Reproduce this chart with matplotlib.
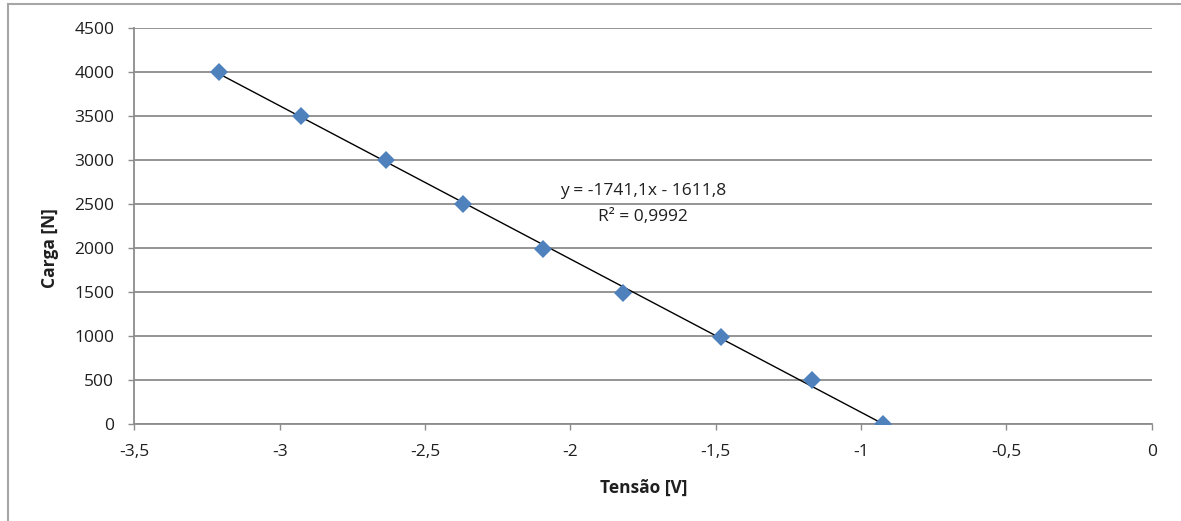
import numpy as np
import matplotlib
matplotlib.use("Agg")
import matplotlib.pyplot as plt
from matplotlib.lines import Line2D

# ---- data ----
tensao = [-3.208, -2.927, -2.635, -2.368, -2.095, -1.818, -1.483, -1.170, -0.925]
carga = [4000, 3500, 3000, 2500, 1985, 1490, 985, 495, 0]

x_ticks = [-3.5, -3.0, -2.5, -2.0, -1.5, -1.0, -0.5, 0.0]
x_tick_labels = ["-3,5", "-3", "-2,5", "-2", "-1,5", "-1", "-0,5", "0"]
y_ticks = [0, 500, 1000, 1500, 2000, 2500, 3000, 3500, 4000, 4500]
y_tick_labels = [str(v) for v in y_ticks]

eq_text = "y = -1741,1x - 1611,8"
r2_text = "R² = 0,9992"
x_label = "Tensão [V]"
y_label = "Carga [N]"

# ---- style ----
plt.rcParams['font.family'] = ['Open Sans', 'DejaVu Sans']
grid_col = "#8C8C8C"
txt_col = "#1F1F1F"
fs = 12.5

W, H = 1181, 521
fig = plt.figure(figsize=(W / 100, H / 100), dpi=100)
ax = fig.add_axes([134.3 / W, (H - 424) / H, (1151.7 - 134.3) / W, (424 - 27.7) / H])

ax.set_xlim(-3.5, 0)
ax.set_ylim(0, 4500)

ax.set_xticks(x_ticks)
ax.set_xticklabels(x_tick_labels)
ax.set_yticks(y_ticks)
ax.set_yticklabels(y_tick_labels)

ax.grid(axis='y', color=grid_col, linewidth=1.3)
ax.set_axisbelow(True)
for s in ['top', 'right']:
    ax.spines[s].set_visible(False)
for s in ['left', 'bottom']:
    ax.spines[s].set_color(grid_col)
    ax.spines[s].set_linewidth(1.3)

ax.tick_params(axis='both', direction='out', length=4.5, width=1.0,
               color=grid_col, labelsize=fs, labelcolor=txt_col)
ax.tick_params(axis='y', pad=10)
ax.tick_params(axis='x', pad=10)

# trendline
xs = np.array(tensao)
ys = np.array(carga)
slope, intercept = np.polyfit(xs, ys, 1)
xl = np.array([xs.min(), xs.max()])
ax.plot(xl, slope * xl + intercept, color='black', linewidth=1.0, zorder=3)

# points
ax.plot(tensao, carga, linestyle='none', marker='D', markersize=8.8,
        color='#4F81BD', markeredgewidth=0, zorder=4)

ax.text(0.50, 0.588, eq_text, transform=ax.transAxes, ha='center', va='center',
        fontsize=fs, color=txt_col)
ax.text(0.50, 0.522, r2_text, transform=ax.transAxes, ha='center', va='center',
        fontsize=fs, color=txt_col)

fig.text(644 / W, 1 - 488 / H, x_label, ha='center', va='center',
         fontsize=fs, fontweight='bold', color=txt_col)
fig.text(50 / W, 1 - 248 / H, y_label, ha='center', va='center', rotation=90,
         fontsize=fs, fontweight='bold', color=txt_col)

# outer frame (top and left visible)
frame_col = "#A6A6A6"
fig.add_artist(Line2D([8 / W, 1.0], [1 - 4 / H, 1 - 4 / H], transform=fig.transFigure,
                      color=frame_col, linewidth=1.5))
fig.add_artist(Line2D([8 / W, 8 / W], [0.0, 1 - 4 / H], transform=fig.transFigure,
                      color=frame_col, linewidth=1.5))

fig.savefig("out.png", dpi=100)
